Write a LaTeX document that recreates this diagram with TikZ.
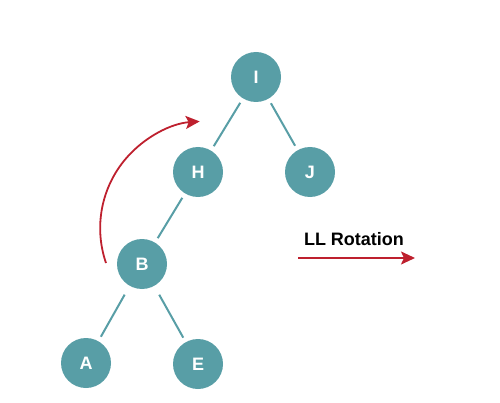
\documentclass[tikz,border=0pt]{standalone}
\usepackage{fontspec}
\setmainfont{Liberation Sans}
\usetikzlibrary{arrows.meta}
\definecolor{teal1}{RGB}{88,158,166}
\definecolor{red1}{RGB}{190,32,46}
\tikzset{
  tnode/.style={circle, fill=teal1, minimum size=50pt, inner sep=0pt, text=white, font=\fontsize{18}{18}\selectfont\bfseries},
  tedge/.style={draw=teal1, line width=2pt, shorten <=5pt, shorten >=5pt},
  redarrow/.style={draw=red1, line width=1.8pt, -{Stealth[length=14pt,width=13pt,inset=3pt]}}
}
\begin{document}
\begin{tikzpicture}[x=1pt,y=1pt]
\useasboundingbox (0,0) rectangle (500,402);
\node[tnode] (I) at (256,325) {I};
\node[tnode] (H) at (198,230) {H};
\node[tnode] (J) at (310,230) {J};
\node[tnode] (B) at (142,138) {B};
\node[tnode] (A) at (86,39) {A};
\node[tnode] (E) at (198,38) {E};
\draw[tedge] (I) -- (H);
\draw[tedge] (I) -- (J);
\draw[tedge] (H) -- (B);
\draw[tedge, shorten <=10pt] (B) -- (A);
\draw[tedge, shorten <=10pt] (B) -- (E);
\coordinate (arcstart) at (106,139);
\draw[redarrow] (arcstart) arc[start angle=199, end angle=94, radius=107];
\node[font=\fontsize{18}{18}\selectfont\bfseries] (lbl) at (354,163) {LL Rotation};
\coordinate (rs) at (298,144);
\coordinate (re) at (415,144);
\draw[redarrow] (rs) -- (re);
\end{tikzpicture}
\end{document}
